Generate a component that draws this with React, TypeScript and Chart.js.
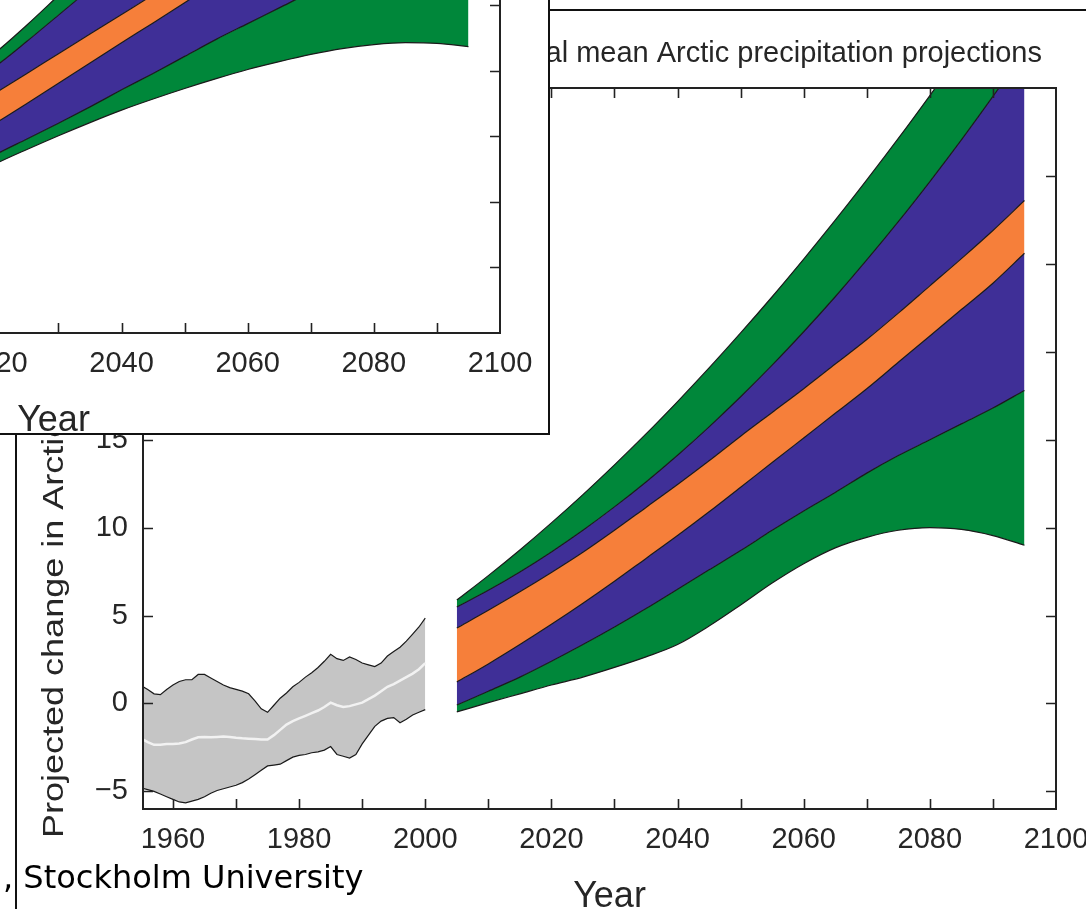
import React, { useEffect, useRef } from 'react';
import { Chart, registerables } from 'chart.js';

Chart.register(...registerables);

const FONT = "'Liberation Sans', Arial, Helvetica, sans-serif";
const INK = '#262626';
const GREEN = '#00873a';
const PURPLE = '#3f2f97';
const ORANGE = '#f67f3a';
const GRAY = '#c5c5c5';
const EDGE = '#1a1a1a';

// ---------- shared axis data ----------
const xTitle = 'Year';
const xLabelYears = [1960, 1980, 2000, 2020, 2040, 2060, 2080, 2100];
const xTickYears = [1960, 1970, 1980, 1990, 2000, 2010, 2020, 2030, 2040, 2050, 2060, 2070, 2080, 2090];

// ---------- precipitation (main) chart ----------
const precipTitle = 'Annual mean Arctic precipitation projections';
const precipYTitle = 'Projected change in Arctic precipitation (%)';
const precipYTicks = [-5, 0, 5, 10, 15, 20, 25, 30];

const histYears = [1955, 1956, 1957, 1958, 1959, 1960, 1961, 1962, 1963, 1964, 1965, 1966, 1967, 1968, 1969, 1970, 1971, 1972, 1973, 1974, 1975, 1976, 1977, 1978, 1979, 1980, 1981, 1982, 1983, 1984, 1985, 1986, 1987, 1988, 1989, 1990, 1991, 1992, 1993, 1994, 1995, 1996, 1997, 1998, 1999, 2000];
const histUpper = [1.0, 0.8, 0.55, 0.5, 0.8, 1.05, 1.25, 1.35, 1.35, 1.65, 1.65, 1.45, 1.25, 1.05, 0.9, 0.8, 0.7, 0.55, 0.15, -0.3, -0.5, -0.1, 0.3, 0.6, 0.95, 1.2, 1.5, 1.75, 2.05, 2.4, 2.8, 2.55, 2.45, 2.65, 2.5, 2.3, 2.2, 2.1, 2.3, 2.7, 2.95, 3.2, 3.55, 3.95, 4.35, 4.85];
const histLower = [-4.8, -4.9, -5.0, -5.15, -5.3, -5.45, -5.6, -5.65, -5.55, -5.45, -5.3, -5.1, -4.95, -4.85, -4.75, -4.65, -4.5, -4.3, -4.05, -3.8, -3.55, -3.5, -3.45, -3.25, -3.05, -2.95, -2.9, -2.8, -2.75, -2.65, -2.45, -2.9, -3.0, -3.1, -2.9, -2.3, -1.8, -1.3, -1.0, -0.85, -0.8, -1.1, -0.9, -0.65, -0.5, -0.35];
const histMean = [-2.0, -2.2, -2.35, -2.35, -2.3, -2.3, -2.28, -2.2, -2.05, -1.92, -1.9, -1.92, -1.9, -1.88, -1.9, -1.95, -1.98, -2.0, -2.02, -2.05, -2.05, -1.8, -1.5, -1.2, -1.0, -0.85, -0.7, -0.55, -0.4, -0.2, 0.05, -0.1, -0.2, -0.15, -0.05, 0.05, 0.25, 0.45, 0.7, 0.95, 1.1, 1.3, 1.5, 1.7, 1.95, 2.3];

const projYears = [2005, 2010, 2015, 2020, 2025, 2030, 2035, 2040, 2045, 2050, 2055, 2060, 2065, 2070, 2075, 2080, 2085, 2090, 2095];
const precipGreenLow = [-0.48, 0.05, 0.55, 1.05, 1.5, 2.05, 2.65, 3.35, 4.4, 5.6, 6.85, 7.95, 8.85, 9.45, 9.85, 10.0, 9.9, 9.55, 9.0];
const precipPurpleLow = [-0.09, 0.7, 1.5, 2.4, 3.35, 4.35, 5.4, 6.5, 7.6, 8.7, 9.85, 10.95, 12.0, 13.1, 14.1, 15.0, 15.9, 16.8, 17.8];
const precipOrangeLow = [1.22, 2.25, 3.35, 4.5, 5.7, 6.95, 8.25, 9.55, 10.9, 12.3, 13.7, 15.1, 16.5, 17.9, 19.4, 20.9, 22.4, 23.9, 25.6];
const precipOrangeHigh = [4.29, 5.3, 6.35, 7.45, 8.6, 9.85, 11.15, 12.45, 13.8, 15.2, 16.55, 17.9, 19.3, 20.7, 22.2, 23.75, 25.3, 26.9, 28.6];
const precipPurpleHigh = [5.49, 6.44, 7.48, 8.62, 9.85, 11.18, 12.6, 14.12, 15.73, 17.44, 19.24, 21.14, 23.13, 25.22, 27.4, 29.68, 32.05, 34.52, 37.08];
const precipGreenHigh = [5.88, 7.27, 8.73, 10.27, 11.88, 13.57, 15.33, 17.17, 19.08, 21.07, 23.13, 25.27, 27.48, 29.77, 32.13, 34.57, 37.08, 39.67, 42.33];

// ---------- temperature (inset) chart ----------
const tempTitle = 'Annual mean Arctic temperature projections';
const tempYTitle = 'Projected change in Arctic temperature (\u00B0C)';
const tempYTicks = [0, 1, 2, 3, 4, 5, 6, 7, 8, 9];
const tempGreenLow = [0.8, 1.07, 1.33, 1.58, 1.8, 2.01, 2.21, 2.4, 2.57, 2.73, 2.88, 3.02, 3.14, 3.25, 3.34, 3.4, 3.43, 3.42, 3.37];
const tempPurpleLow = [0.95, 1.2, 1.45, 1.72, 1.96, 2.2, 2.45, 2.71, 2.96, 3.22, 3.48, 3.72, 3.96, 4.2, 4.42, 4.65, 4.85, 5.05, 5.25];
const tempOrangeLow = [1.3, 1.6, 1.9, 2.2, 2.5, 2.81, 3.12, 3.43, 3.73, 4.04, 4.35, 4.66, 4.97, 5.28, 5.59, 5.9, 6.2, 6.5, 6.8];
const tempOrangeHigh = [1.78, 2.07, 2.37, 2.66, 2.96, 3.26, 3.56, 3.86, 4.16, 4.47, 4.78, 5.09, 5.4, 5.71, 6.02, 6.33, 6.64, 6.95, 7.26];
const tempPurpleHigh = [2.1, 2.45, 2.78, 3.07, 3.45, 3.85, 4.25, 4.65, 5.05, 5.45, 5.85, 6.25, 6.65, 7.05, 7.45, 7.85, 8.25, 8.65, 9.05];
const tempGreenHigh = [2.25, 2.6, 2.95, 3.28, 3.7, 4.15, 4.6, 5.05, 5.55, 6.05, 6.6, 7.15, 7.7, 8.25, 8.8, 9.35, 9.9, 10.45, 11.0];

const footerText = ', Stockholm University';

// ---------- helpers ----------
const PLOT_RIGHT = 1056;
const CANVAS_H = 930;

const pts = (xs: number[], ys: number[]) => xs.map((x, i) => ({ x, y: ys[i] }));

function bandDatasets(years: number[], edges: number[][]) {
  const fills = [null, GREEN, PURPLE, ORANGE, PURPLE, GREEN];
  return edges.map((ys, i) => ({
    type: 'line',
    data: pts(years, ys),
    borderColor: EDGE,
    borderWidth: 1.2,
    pointRadius: 0,
    cubicInterpolationMode: 'monotone',
    fill: i === 0 ? false : '-1',
    backgroundColor: fills[i] || 'rgba(0,0,0,0)',
  }));
}

function makeFramePlugin(cfg: { yTicks: number[]; title: string; yTitle: string }) {
  return {
    id: 'frameDecor',
    afterDraw(chart: any) {
      const { ctx, chartArea: a, scales } = chart;
      const xs = scales.x;
      const ys = scales.y;
      const L = 10;
      ctx.save();
      ctx.strokeStyle = '#222';
      ctx.lineWidth = 1.6;
      ctx.beginPath();
      for (const v of xTickYears) {
        const px = Math.round(xs.getPixelForValue(v)) + 0.5;
        ctx.moveTo(px, a.bottom);
        ctx.lineTo(px, a.bottom - L);
        ctx.moveTo(px, a.top);
        ctx.lineTo(px, a.top + L);
      }
      for (const v of cfg.yTicks) {
        const py = Math.round(ys.getPixelForValue(v)) + 0.5;
        ctx.moveTo(a.left, py);
        ctx.lineTo(a.left + L, py);
        ctx.moveTo(a.right, py);
        ctx.lineTo(a.right - L, py);
      }
      ctx.stroke();
      ctx.lineWidth = 2;
      ctx.strokeRect(a.left, a.top, a.right - a.left, a.bottom - a.top);

      ctx.fillStyle = INK;
      ctx.textBaseline = 'alphabetic';

      // chart title
      ctx.font = `29px ${FONT}`;
      ctx.textAlign = 'right';
      ctx.fillText(cfg.title, a.right - 14, a.top - 26);

      // x-axis title
      ctx.font = `36px ${FONT}`;
      ctx.textAlign = 'center';
      ctx.fillText(xTitle, (a.left + a.right) / 2 + 10, a.bottom + 98);

      // y-axis title (tall, condensed look as in the figure)
      ctx.save();
      ctx.translate(a.left - 80, a.bottom + 29);
      ctx.rotate(-Math.PI / 2);
      ctx.scale(1.2, 1);
      ctx.font = `30px ${FONT}`;
      ctx.textAlign = 'left';
      ctx.fillText(cfg.yTitle, 0, 0);
      ctx.restore();
      ctx.restore();
    },
  };
}

function makeConfig(kind: 'precip' | 'temp', canvasW: number): any {
  const isP = kind === 'precip';
  const yTicks = isP ? precipYTicks : tempYTicks;
  const datasets: any[] = [];
  if (isP) {
    datasets.push(
      { type: 'line', data: pts(histYears, histMean), borderColor: '#f2f2f2', borderWidth: 2.5, pointRadius: 0, fill: false },
      { type: 'line', data: pts(histYears, histLower), borderColor: EDGE, borderWidth: 1.2, pointRadius: 0, fill: false },
      { type: 'line', data: pts(histYears, histUpper), borderColor: EDGE, borderWidth: 1.2, pointRadius: 0, fill: '-1', backgroundColor: GRAY },
    );
    datasets.push(...bandDatasets(projYears, [precipGreenLow, precipPurpleLow, precipOrangeLow, precipOrangeHigh, precipPurpleHigh, precipGreenHigh]));
  } else {
    datasets.push(...bandDatasets(projYears, [tempGreenLow, tempPurpleLow, tempOrangeLow, tempOrangeHigh, tempPurpleHigh, tempGreenHigh]));
  }
  return {
    type: 'line',
    data: { datasets },
    options: {
      responsive: false,
      animation: false,
      devicePixelRatio: 1,
      events: [],
      layout: { padding: { left: 0, right: canvasW - PLOT_RIGHT, top: 88, bottom: 0 } },
      plugins: { legend: { display: false }, tooltip: { enabled: false }, title: { display: false } },
      scales: {
        x: {
          type: 'linear',
          min: 1955.25,
          max: 2100,
          afterBuildTicks: (s: any) => { s.ticks = xLabelYears.map((v) => ({ value: v })); },
          afterFit: (s: any) => { s.height = 121; s.paddingLeft = 0; s.paddingRight = 0; },
          grid: { display: false, drawTicks: false },
          border: { display: false },
          ticks: {
            font: { family: FONT, size: 29 },
            color: INK,
            padding: 14,
            maxRotation: 0,
            autoSkip: false,
            callback: (v: any) => String(v),
          },
          title: { display: false },
        },
        y: {
          type: 'linear',
          min: isP ? -6 : -1,
          max: isP ? 35 : 10,
          afterBuildTicks: (s: any) => { s.ticks = yTicks.map((v) => ({ value: v })); },
          afterFit: (s: any) => { s.width = 143; s.paddingTop = 0; s.paddingBottom = 0; },
          grid: { display: false, drawTicks: false },
          border: { display: false },
          ticks: {
            font: { family: FONT, size: 29 },
            color: INK,
            padding: 15,
            callback: (v: any) => (v < 0 ? '\u2212' + Math.abs(v) : String(v)),
          },
        },
      },
    },
    plugins: [makeFramePlugin({ yTicks, title: isP ? precipTitle : tempTitle, yTitle: isP ? precipYTitle : tempYTitle })],
  };
}

function ChartCanvas({ kind, left, top, width }: { kind: 'precip' | 'temp'; left: number; top: number; width: number }) {
  const ref = useRef<HTMLCanvasElement>(null);
  useEffect(() => {
    const chart = new Chart(ref.current as HTMLCanvasElement, makeConfig(kind, width));
    return () => chart.destroy();
  }, [kind, width]);
  return (
    <canvas
      ref={ref}
      width={width}
      height={CANVAS_H}
      style={{ position: 'absolute', left, top, width, height: CANVAS_H, display: 'block' }}
    />
  );
}

export default function App() {
  return (
    <div style={{ position: 'absolute', left: 0, top: 0, width: 1086, height: 909, overflow: 'hidden', background: '#fff' }}>
      <ChartCanvas kind="precip" left={0} top={0} width={1086} />
      {/* window edge line at the top right */}
      <div style={{ position: 'absolute', left: 550, top: 9, width: 536, height: 2, background: '#111' }} />
      {/* window edge line at the bottom left */}
      <div style={{ position: 'absolute', left: 15, top: 435, width: 2, height: 474, background: '#111' }} />
      <div
        style={{
          position: 'absolute',
          left: 3,
          top: 858,
          fontFamily: "'DejaVu Sans', sans-serif",
          fontSize: 32,
          color: '#000',
          whiteSpace: 'pre',
        }}
      >
        {footerText}
      </div>
      {/* inset window with the temperature projection figure */}
      <div
        style={{
          position: 'absolute',
          left: 0,
          top: 0,
          width: 548,
          height: 433,
          overflow: 'hidden',
          background: '#fff',
          borderRight: '2px solid #111',
          borderBottom: '2px solid #111',
          zIndex: 2,
        }}
      >
        <ChartCanvas kind="temp" left={-556} top={-476} width={1120} />
      </div>
    </div>
  );
}
